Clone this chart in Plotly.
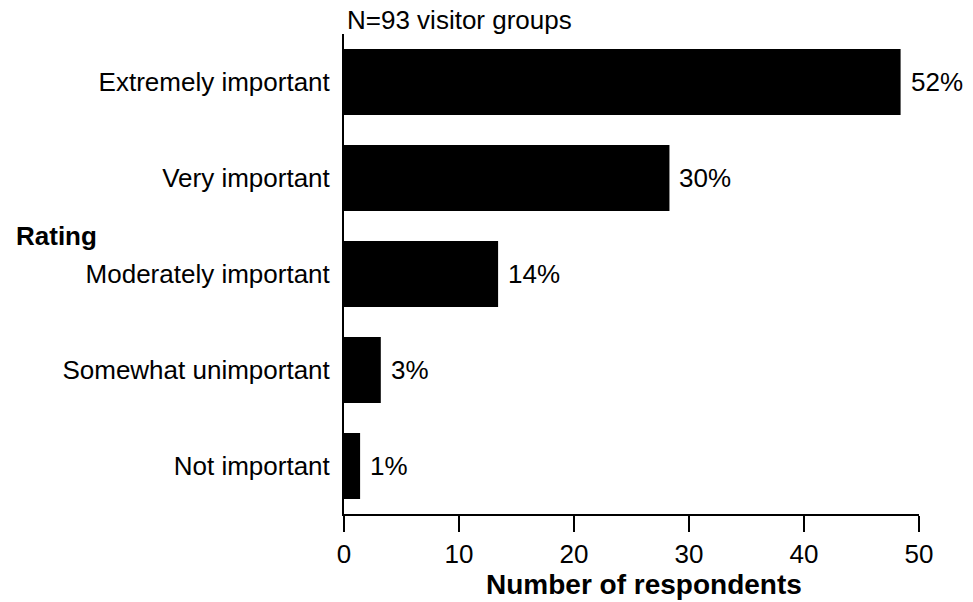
import plotly.graph_objects as go

ratings = ["Extremely important", "Very important", "Moderately important",
           "Somewhat unimportant", "Not important"]
respondents = [48.4, 28.3, 13.4, 3.2, 1.4]
percent_labels = ["52%", "30%", "14%", "3%", "1%"]
x_ticks = [0, 10, 20, 30, 40, 50]

FONT = "Liberation Sans, Arial, sans-serif"
FS = 26

fig = go.Figure()

fig.add_trace(go.Bar(
    x=respondents,
    y=ratings,
    orientation="h",
    marker=dict(color="black", line=dict(width=0)),
    showlegend=False,
    hoverinfo="skip",
))

for val, cat, lab in zip(respondents, ratings, percent_labels):
    fig.add_annotation(
        x=val, y=cat, text=lab, showarrow=False,
        xanchor="left", yanchor="middle", xshift=8,
        font=dict(family=FONT, size=FS, color="black"),
    )

fig.add_annotation(
    x=0, y=1.029, xref="paper", yref="paper", text="N=93 visitor groups",
    showarrow=False, xanchor="left", yanchor="middle", xshift=1,
    font=dict(family=FONT, size=FS, color="black"),
)

fig.add_annotation(
    x=0, y=0.579, xref="paper", yref="paper", text="<b>Rating</b>",
    showarrow=False, xanchor="left", yanchor="middle", xshift=-330,
    font=dict(family=FONT, size=FS, color="black"),
)

# x axis title as annotation (sits a bit right of the plot centre)
fig.add_annotation(
    x=0.5, y=-0.146, xref="paper", yref="paper",
    text="<b>Number of respondents</b>",
    showarrow=False, xanchor="center", yanchor="middle", xshift=12,
    font=dict(family=FONT, size=28, color="black"),
)

fig.update_xaxes(
    range=[0, 50],
    tickvals=x_ticks,
    ticks="outside",
    ticklen=16,
    tickwidth=2,
    tickcolor="black",
    showline=True,
    linewidth=2,
    linecolor="black",
    showgrid=False,
    zeroline=False,
    tickfont=dict(family=FONT, size=FS, color="black"),
)

fig.update_yaxes(
    autorange="reversed",
    showline=True,
    linewidth=2,
    linecolor="black",
    showgrid=False,
    ticks="",
    ticklabelstandoff=7,
    tickfont=dict(family=FONT, size=FS, color="black"),
)

fig.update_layout(
    width=973,
    height=602,
    margin=dict(l=344, r=54, t=34, b=88),
    bargap=0.31,
    plot_bgcolor="white",
    paper_bgcolor="white",
    font=dict(family=FONT, size=FS, color="black"),
)

# drop the default body margin so the figure fills the window exactly
fig.write_html("out.html", config={"displayModeBar": False},
               post_script="document.body.style.margin='0';")
